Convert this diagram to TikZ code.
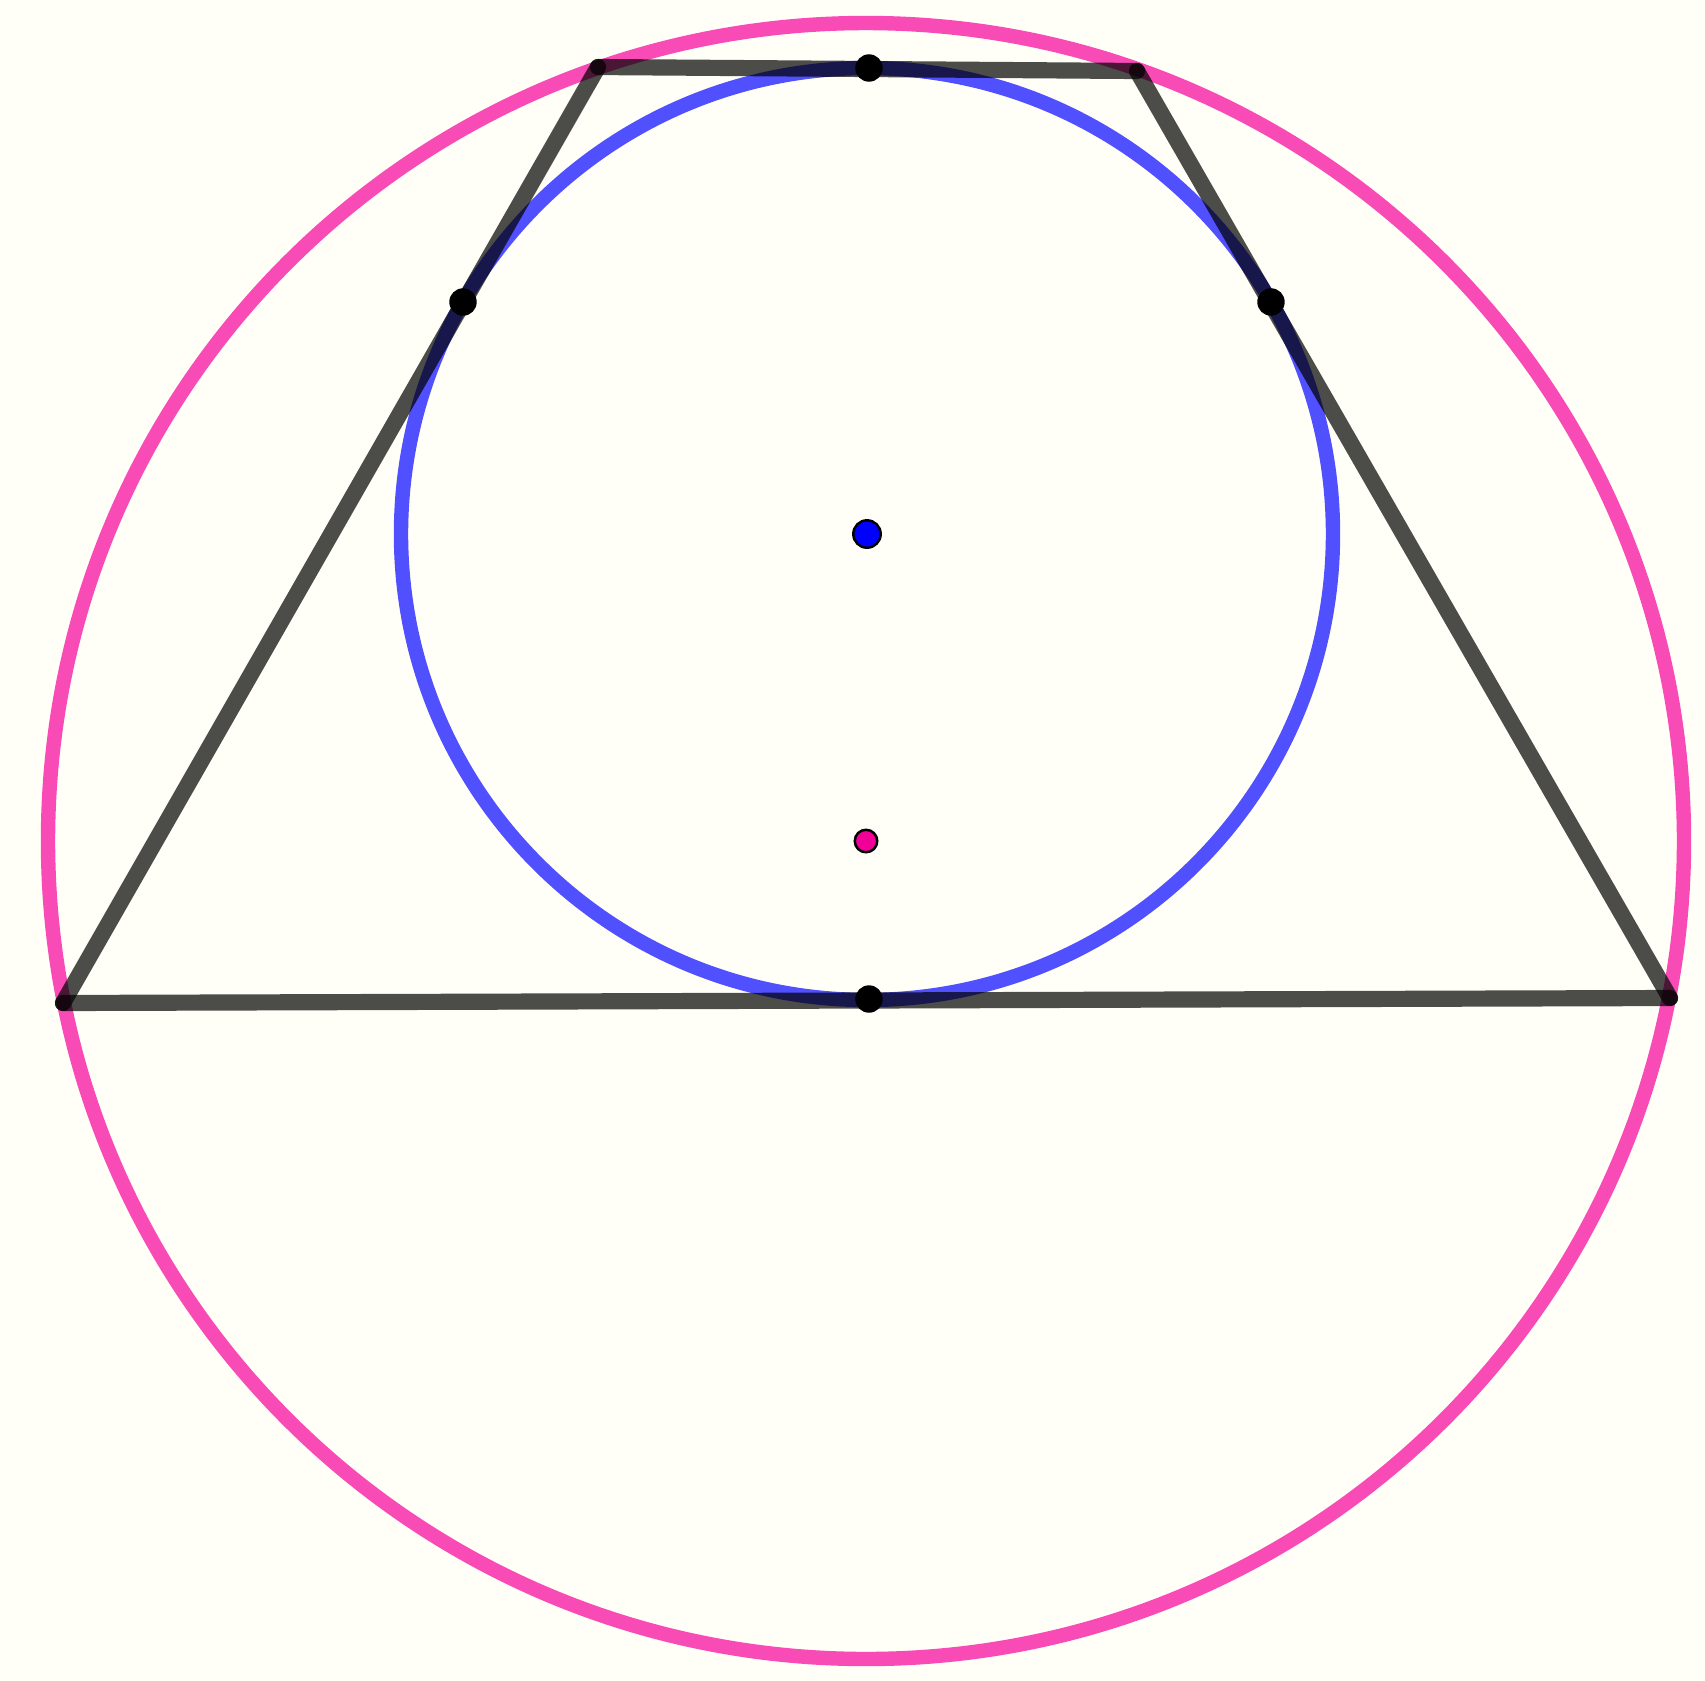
\documentclass[tikz,border=0pt]{standalone}
\definecolor{bgc}{RGB}{255,255,248}
\definecolor{pinkc}{RGB}{248,75,182}
\definecolor{bluec}{RGB}{80,80,255}
\definecolor{dotpink}{RGB}{240,0,150}
\begin{document}
\begin{tikzpicture}[x=0.01cm,y=-0.01cm,
  side/.style={line width=4.6pt,black,opacity=0.7,line cap=round},
  tdot/.style={circle,fill=black,inner sep=0pt,minimum size=7.8pt},
  cdot/.style={circle,draw=black,line width=0.7pt,inner sep=0pt,minimum size=#1},
]
\fill[bgc] (0,0) rectangle (1705,1681);
\useasboundingbox (0,0) rectangle (1705,1681);
% centres
\coordinate (O) at (866,841);
\coordinate (I) at (867,534);
% vertices
\coordinate (A) at (598,67);
\coordinate (B) at (1137,71);
\coordinate (C) at (1670,998);
\coordinate (D) at (63,1003);
% circles
\draw[pinkc,line width=4.1pt] (O) circle[radius=818];
\draw[bluec,line width=4.1pt] (I) circle[radius=466];
% sides
\draw[side] (A) -- (B);
\draw[side] (B) -- (C);
\draw[side] (C) -- (D);
\draw[side] (D) -- (A);
% tangency points
\node[tdot] (T1) at (869,68) {};
\node[tdot] (T2) at (463,302) {};
\node[tdot] (T3) at (1271,302) {};
\node[tdot] (T4) at (869,999) {};
% centre dots
\node[cdot=7.8pt,fill=blue] (Ic) at (I) {};
\node[cdot=6.4pt,fill=dotpink] (Oc) at (O) {};
\end{tikzpicture}
\end{document}
